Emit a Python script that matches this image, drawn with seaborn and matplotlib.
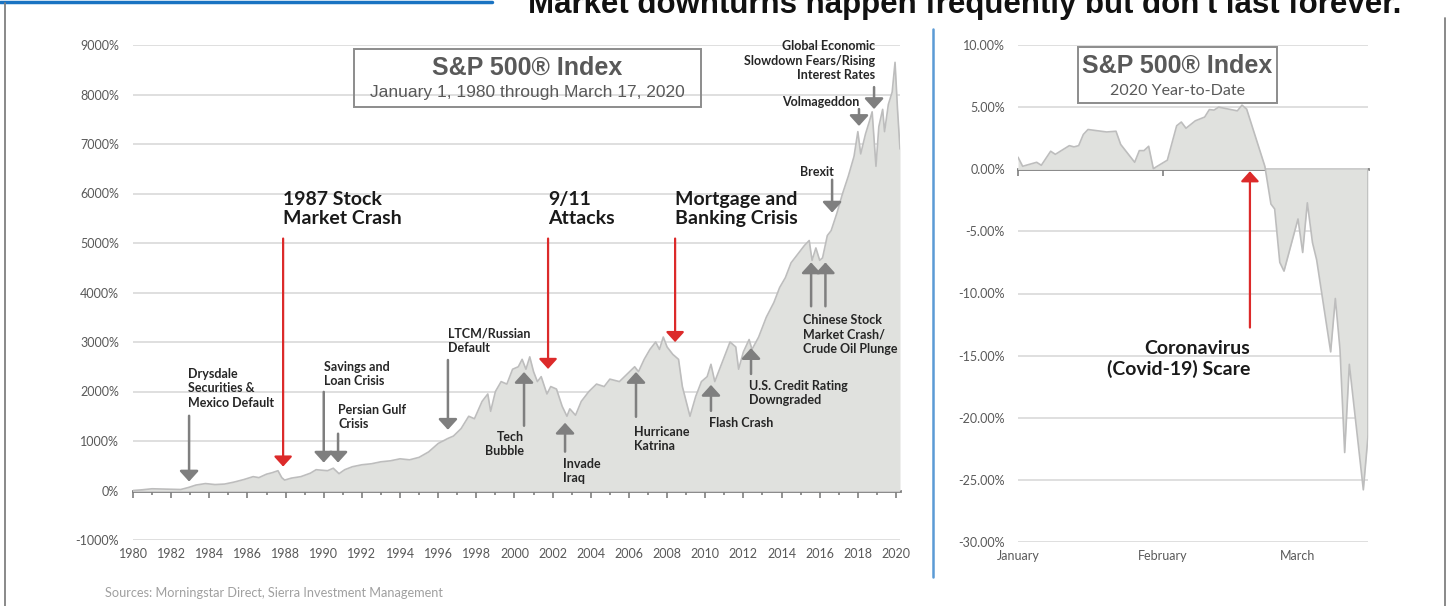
import matplotlib
matplotlib.use("Agg")
import matplotlib.pyplot as plt
import seaborn as sns
import pandas as pd
from matplotlib.lines import Line2D
from matplotlib.patches import Rectangle, ArrowStyle

sns.set_theme(style="white")
plt.rcParams['font.family'] = ['Lato', 'DejaVu Sans']

# S&P 500 cumulative total return (%) since Jan 1980
sp_years = [1980.0, 1980.5, 1981.0, 1981.5, 1982.0, 1982.5, 1982.9, 1983.3, 1983.8, 1984.3,
            1984.8, 1985.3, 1985.8, 1986.3, 1986.6, 1987.0, 1987.3, 1987.6, 1987.8, 1987.95,
            1988.3, 1988.8, 1989.3, 1989.6, 1989.9, 1990.2, 1990.5, 1990.8, 1991.1, 1991.5,
            1992.0, 1992.5, 1993.0, 1993.5, 1994.0, 1994.5, 1995.0, 1995.5, 1996.0, 1996.5,
            1996.8, 1997.2, 1997.6, 1997.9, 1998.3, 1998.6, 1998.75, 1999.0, 1999.3, 1999.6,
            1999.9, 2000.2, 2000.4, 2000.6, 2000.8, 2001.0, 2001.2, 2001.4, 2001.7, 2001.9,
            2002.2, 2002.5, 2002.75, 2002.9, 2003.2, 2003.5, 2003.9, 2004.3, 2004.7, 2005.0,
            2005.5, 2005.9, 2006.3, 2006.5, 2006.8, 2007.1, 2007.4, 2007.6, 2007.8, 2008.0,
            2008.3, 2008.6, 2008.8, 2009.0, 2009.2, 2009.5, 2009.8, 2010.1, 2010.3, 2010.5,
            2010.8, 2011.1, 2011.3, 2011.6, 2011.75, 2012.0, 2012.3, 2012.45, 2012.8, 2013.2,
            2013.6, 2013.9, 2014.2, 2014.5, 2014.8, 2015.2, 2015.45, 2015.6, 2015.8, 2016.0,
            2016.15, 2016.4, 2016.6, 2016.9, 2017.2, 2017.5, 2017.8, 2018.0, 2018.15, 2018.4,
            2018.6, 2018.75, 2018.95, 2019.1, 2019.3, 2019.4, 2019.6, 2019.8, 2019.95, 2020.08,
            2020.21]
sp_total = [0, 15, 35, 30, 25, 20, 60, 110, 140, 120,
            130, 170, 220, 280, 260, 330, 360, 400, 260, 210,
            250, 280, 350, 420, 410, 400, 450, 340, 420, 480,
            520, 540, 580, 600, 640, 620, 670, 780, 950, 1050,
            1100, 1250, 1500, 1450, 1800, 1950, 1600, 2000, 2200, 2150,
            2450, 2500, 2650, 2450, 2700, 2400, 2200, 2300, 1950, 2100,
            2050, 1700, 1500, 1650, 1520, 1800, 2000, 2150, 2100, 2250,
            2200, 2350, 2500, 2400, 2650, 2850, 3000, 2850, 3100, 2900,
            2750, 2650, 2100, 1800, 1500, 1900, 2200, 2300, 2550, 2200,
            2500, 2800, 3000, 2900, 2450, 2800, 3050, 2850, 3100, 3500,
            3800, 4100, 4300, 4600, 4750, 4950, 5050, 4650, 4900, 4650,
            4700, 5150, 5250, 5600, 6000, 6350, 6750, 7250, 6800, 7200,
            7450, 7650, 6550, 7350, 7700, 7250, 7800, 8050, 8650, 7700,
            6900]

# 2020 year-to-date return (%), x = days since Jan 1
ytd_days = [0, 1, 4, 5, 7, 8, 11, 12, 13, 14, 15, 19, 21, 22, 25, 26, 27, 28, 29, 32,
            34, 35, 36, 38, 40, 41, 42, 43, 47, 48, 49, 52.9, 54.2, 55, 56.1, 57, 60, 61,
            62, 63.1, 64, 67, 68, 69, 70, 71, 74, 75]
ytd_pct = [0.97, 0.24, 0.56, 0.32, 1.45, 1.2, 1.9, 1.8, 1.9, 2.8, 3.2, 3.0, 3.06, 2.0, 0.56,
           1.5, 1.5, 1.85, 0.05, 0.73, 3.5, 3.8, 3.3, 3.9, 4.2, 4.8, 4.76, 5.0, 4.7, 5.16,
           4.84, 0.24, -2.8, -3.2, -7.5, -8.2, -4.0, -6.7, -2.7, -5.9, -7.3, -14.7, -10.4,
           -14.5, -22.8, -15.7, -25.8, -21.5]

year_labels = [1980, 1982, 1984, 1986, 1988, 1990, 1992, 1994, 1996, 1998, 2000,
               2002, 2004, 2006, 2008, 2010, 2012, 2014, 2016, 2018, 2020]
month_pos = [0, 31, 60]
month_labels = ["January", "February", "March"]

# big red events: label, x, arrow tail, arrow tip
red_events = [("1987 Stock\nMarket Crash", 1987.87, 5090, 483),
              ("9/11\nAttacks", 2001.76, 5090, 2455),
              ("Mortgage and\nBanking Crisis", 2008.42, 5090, 2998)]

# gray events: label, text x, text top, align, arrow x list, arrow tail, arrow tip
gray_events = [
    ("Drysdale\nSecurities &\nMexico Default", 1982.88, 2480, "left", [1982.94], 1509, 181),
    ("Savings and\nLoan Crisis", 1990.0, 2620, "left", [1990.0], 1992, 563),
    ("Persian Gulf\nCrisis", 1990.75, 1750, "left", [1990.75], 1147, 563),
    ("LTCM/Russian\nDefault", 1996.5, 3300, "left", [1996.51], 2636, 1227),
    ("Tech\nBubble", 2000.5, 1210, "right", [2000.5], 1308, 2394),
    ("Invade\nIraq", 2002.55, 665, "left", [2002.65], 785, 1368),
    ("Hurricane\nKatrina", 2006.26, 1310, "left", [2006.37], 1489, 2394),
    ("Flash Crash", 2010.2, 1490, "left", [2010.3], 1610, 2133),
    ("U.S. Credit Rating\nDowngraded", 2012.3, 2235, "left", [2012.4], 2354, 2877),
    ("Chinese Stock\nMarket Crash/\nCrude Oil Plunge", 2015.12, 3560, "left", [2015.55, 2016.3], 3722, 4608),
    ("Brexit", 2016.72, 6560, "right", [2016.65], 6278, 5614),
    ("Volmageddon", 2018.07, 7970, "right", [2018.06], 7706, 7364),
    ("Global Economic\nSlowdown Fears/Rising\nInterest Rates", 2018.9, 9095, "right", [2018.85], 8149, 7706),
]

FILL = "#e0e1de"
EDGE = "#bdbdbd"
TICK = "#595959"
GRID = "#d9d9d9"
AXLINE = "#7f7f7f"
RED = "#dc2a2a"
GRAY = "#7f7f7f"
ARIAL = ["Liberation Sans", "DejaVu Sans"]
W, H = 1447, 606

fig = plt.figure(figsize=(W / 100, H / 100), dpi=100)

head = ArrowStyle("-|>", head_length=0.55, head_width=0.5)


def draw_arrow(ax, x, y0, y1, color, lw, ms=11):
    ax.annotate("", xy=(x, y1), xytext=(x, y0), annotation_clip=False,
                arrowprops=dict(arrowstyle=head, color=color, lw=lw, mutation_scale=ms,
                                shrinkA=0, shrinkB=0))


def style_axes(ax, ypad):
    for s in ax.spines.values():
        s.set_visible(False)
    ax.yaxis.grid(True, color=GRID, lw=1.2)
    ax.xaxis.grid(False)
    ax.set_axisbelow(True)
    ax.tick_params(axis="y", length=0, pad=ypad, labelsize=9, labelcolor=TICK)
    ax.tick_params(axis="x", length=0, pad=6, labelsize=9, labelcolor=TICK)
    ax.set_xlabel("")
    ax.set_ylabel("")


def zero_axis(ax, frac, major, minor=None):
    # x axis line drawn through 0%, labels stay at the bottom
    sec = ax.secondary_xaxis(frac)
    sec.set_alignment("bottom")
    sec.set_xticks(major)
    sec.set_xticklabels([])
    if minor:
        sec.set_xticks(minor, minor=True)
    sec.tick_params(which="major", length=5, width=1.2, color=AXLINE,
                    labelbottom=False, labeltop=False)
    sec.tick_params(which="minor", length=3, width=1.2, color=AXLINE)
    sec.spines["bottom"].set_color(AXLINE)
    sec.spines["bottom"].set_linewidth(2)
    return sec


# ---- left: since 1980 ----
ax1 = fig.add_axes([133 / W, 66 / H, 767 / W, 495 / H])
df1 = pd.DataFrame({"year": sp_years, "ret": sp_total})
ax1.fill_between(df1["year"], df1["ret"], 0, color=FILL, lw=0)
sns.lineplot(data=df1, x="year", y="ret", ax=ax1, color=EDGE, lw=1.2)
ax1.set_xlim(1980, 2020.21)
ax1.set_ylim(-1000, 9000)
ax1.set_yticks(range(-1000, 9001, 1000))
ax1.set_yticklabels([f"{v}%" for v in range(-1000, 9001, 1000)])
ax1.set_xticks(year_labels)
ax1.set_xticklabels([str(y) for y in year_labels])
style_axes(ax1, 10)
zero_axis(ax1, 0.1, year_labels, [y + 1 for y in year_labels[:-1]])

for label, x, y0, y1 in red_events:
    draw_arrow(ax1, x, y0, y1, RED, 1.6)
    ax1.text(x, 6060, label, ha="left", va="top", fontsize=14, fontweight="bold",
             color="#1a1a1a", linespacing=1.2)

for label, tx, ty, ha, xs, y0, y1 in gray_events:
    for x in xs:
        draw_arrow(ax1, x, y0, y1, GRAY, 1.8, 11.5)
    ax1.text(tx, ty, label, ha=ha, va="top", fontsize=9, fontweight="bold",
             color="#262626", linespacing=1.25, multialignment=ha, clip_on=False)

# title box, left
fig.add_artist(Rectangle((354 / W, 1 - 107 / H), 347 / W, 58 / H, transform=fig.transFigure,
                         fill=False, ec="#8c8c8c", lw=1.4))
fig.text(527 / W, 1 - 68 / H, "S&P 500® Index", ha="center", va="center", fontsize=18,
         fontweight="bold", color="#595959", family=ARIAL)
fig.text(527 / W, 1 - 93 / H, "January 1, 1980 through March 17, 2020", ha="center",
         va="center", fontsize=12.5, color="#595959", family=ARIAL)

# ---- right: 2020 YTD ----
ax2 = fig.add_axes([1018 / W, 64 / H, 350 / W, 497 / H])
df2 = pd.DataFrame({"day": ytd_days, "ret": ytd_pct})
ax2.fill_between(df2["day"], df2["ret"], 0, color=FILL, lw=0)
sns.lineplot(data=df2, x="day", y="ret", ax=ax2, color=EDGE, lw=1.2)
ax2.plot([ytd_days[-1], ytd_days[-1]], [ytd_pct[-1], 0], color=EDGE, lw=1.2)
ax2.set_xlim(0, 75)
ax2.set_ylim(-30, 10)
ax2.set_yticks(range(-30, 11, 5))
ax2.set_yticklabels([f"{v:.2f}%" for v in range(-30, 11, 5)])
ax2.set_xticks(month_pos)
ax2.set_xticklabels(month_labels)
style_axes(ax2, 9.5)
zero_axis(ax2, 0.75, month_pos)

draw_arrow(ax2, 49.7, -12.74, -0.16, RED, 1.6)
ax2.text(49.7, -13.75, "Coronavirus\n(Covid-19) Scare", ha="right", va="top", fontsize=14,
         fontweight="bold", color="#1a1a1a", linespacing=1.2, multialignment="right")

fig.add_artist(Rectangle((1078 / W, 1 - 103 / H), 199 / W, 56 / H, transform=fig.transFigure,
                         fill=False, ec="#8c8c8c", lw=1.4))
fig.text(1177 / W, 1 - 66 / H, "S&P 500® Index", ha="center", va="center", fontsize=18,
         fontweight="bold", color="#595959", family=ARIAL)
fig.text(1177 / W, 1 - 91 / H, "2020 Year-to-Date", ha="center", va="center",
         fontsize=11.5, color="#595959")

# ---- frame, divider, header ----
fig.add_artist(Line2D([0, 492 / W], [1 - 1.5 / H, 1 - 1.5 / H], color="#1a73c2", lw=2.5))
fig.add_artist(Line2D([5 / W, 5 / W], [0, 1 - 3 / H], color="#808080", lw=1.3))
fig.add_artist(Line2D([1445 / W, 1445 / W], [0, 1 - 18 / H], color="#808080", lw=1.3))
fig.add_artist(Line2D([933 / W, 933 / W], [1 - 577 / H, 1 - 29 / H], color="#5b9bd5", lw=1.8))

fig.text(965 / W, 1 - 13 / H, "Market downturns happen frequently but don't last forever.",
         ha="center", va="baseline", fontsize=22.5, fontweight="bold", color="#111111",
         family=ARIAL)
fig.text(105 / W, 1 - 593 / H, "Sources: Morningstar Direct, Sierra Investment Management",
         ha="left", va="center", fontsize=9.2, color="#a0a0a0")

fig.savefig("out.png", dpi=100)
